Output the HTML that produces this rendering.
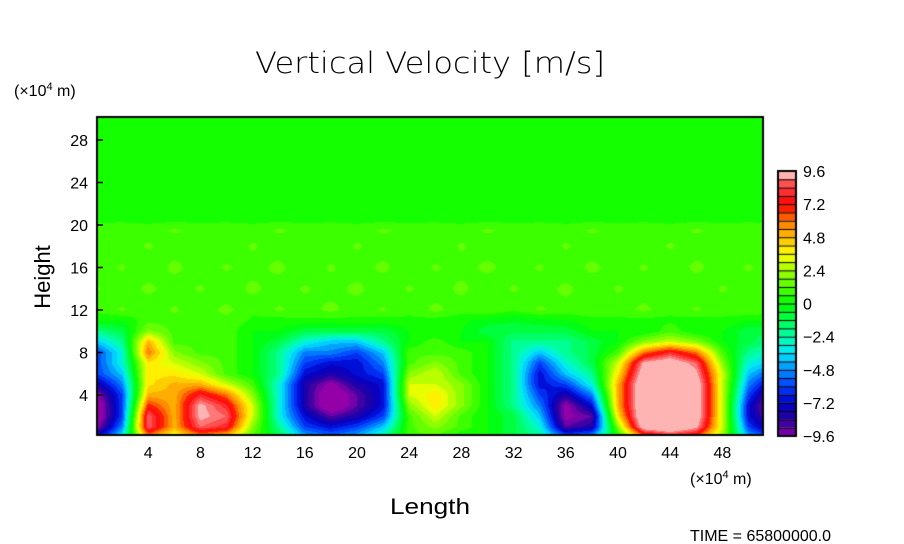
<!DOCTYPE html>
<html><head><meta charset="utf-8">
<style>
body{margin:0;background:#fff;width:904px;height:544px;overflow:hidden;position:relative;font-family:"Liberation Sans",sans-serif;}
canvas{position:absolute;left:0;top:0;}
svg{position:absolute;left:0;top:0;}
</style></head>
<body>
<canvas id="cv" width="904" height="544"></canvas>
<svg id="sv" width="904" height="544">
<text x="255" y="73" font-size="29" textLength="350" lengthAdjust="spacingAndGlyphs" font-family="DejaVu Sans, sans-serif" font-weight="200">Vertical Velocity [m/s]</text>
<text x="14" y="96" font-size="16">(×10<tspan dy="-6" font-size="11">4</tspan><tspan dy="6"> m)</tspan></text>
<text x="690" y="484" font-size="16">(×10<tspan dy="-6" font-size="11">4</tspan><tspan dy="6"> m)</tspan></text>
<text x="390" y="514" font-size="22" textLength="80" lengthAdjust="spacingAndGlyphs">Length</text>
<text transform="translate(50,277) rotate(-90)" font-size="22" text-anchor="middle">Height</text>
<text x="690" y="541" font-size="16">TIME = 65800000.0</text>
<g id="axes"></g>
</svg>
<script>
// Data grid: vertical velocity (m/s)
const xs = [0,2,4,6,8,10,12,14,16,18,20,22,24,26,28,30,32,34,36,38,40,42,44,46,48,50,52];
const ys = [0,1,2,3,4,5,6,7,8,9,10,11,12,14,16,18,19.5,20.5,25,30];
const r0  = [-7,-3,5,3,5,4,1,-1,-4,-5,-4,-2,1,1,0,0,-1,-2,-5,-4,0,5,7,6,2,-4,-6];
const r1  = [-10,-5,9,5,9,8,2,-2,-6,-7,-6,-4,1,2,1,0,-1,-3,-9,-8,2,11,12,10,3,-6,-9];
const r2  = [-11,-6,9,5,10,9,3,-3,-7,-9,-8,-6,1,3,1,0,-1,-4,-10,-9,4,12,13,11,3,-7,-10];
const r3  = [-11,-6,7,5,10,8,3,-3,-8,-11,-9,-7,2,4,2,0,-2,-5,-10,-7,5,12,13,11,3,-7,-11];
const r4  = [-10,-6,5,5,8,6,2,-3,-8,-11,-9,-7,3,4,2,0,-2,-6,-8,-5,5,12,13,11,3,-6,-10];
const r5  = [-8,-5,4,5,5,3,1,-3,-8,-10,-8,-7,3,3,2,0,-2,-7,-6,-3,5,12,13,11,3,-5,-8];
const r6  = [-6,-4,4,4,3,1,0,-2,-7,-8,-7,-6,2,3,1,0,-2,-7,-4,-2,4,11,12,10,3,-4,-6];
const r7  = [-6,-3,4,3,2,1,0,-2,-6,-7,-7,-5,1,2,1,0,-2,-6,-3,-1,3,10,11,9,2,-3,-4];
const r8  = [-6,-3,6,2,1,1,0,-2,-5,-5,-6,-4,1,1,1,0,-2,-4,-2,-1,1,6,8,6,1,-2,-3];
const r9  = [-4,-2,5,1,1,1,0,-1,-3,-4,-4,-2,0,1,0,0,-2,-2,-2,-1,0,2,3,2,0,-1,-2];
const r10 = [-2,-1,2,1,1,1,0,0,-1,-1,-1,-1,0,0,0,-1,-1,-1,-1,0,0,0,1,0,0,-1,-1];
const r11 = [0,0,1,1,1,1,0.5,0.3,0.5,0.3,0.5,0.3,0.5,0.3,0.2,-0.3,-0.5,-0.3,0,0.3,0.5,0.3,0.5,0.3,0.5,0,0];
const r12 = [0.8,1.3,0.7,1.3,0.8,1.4,0.7,1.3,0.9,1.4,0.8,1.3,0.7,1.4,0.8,1.2,0.7,1.3,0.9,1.2,0.8,1.4,0.7,1.3,0.8,1.2,0.8];
const r14 = [1.3,0.7,1.4,0.8,1.3,0.7,1.4,0.8,1.3,0.9,1.4,0.7,1.3,0.8,1.4,0.7,1.3,0.8,1.4,0.7,1.3,0.8,1.2,0.7,1.3,0.8,1.2];
const r16 = [0.8,1.3,0.7,1.4,0.8,1.3,0.9,1.4,0.7,1.3,0.8,1.4,0.7,1.3,0.9,1.4,0.8,1.3,0.7,1.4,0.8,1.3,0.7,1.4,0.8,1.3,0.8];
const r18 = [1.2,0.7,1.3,0.8,1.2,0.7,1.3,0.8,1.2,0.7,1.3,0.8,1.2,0.7,1.3,0.8,1.2,0.7,1.3,0.8,1.2,0.7,1.3,0.8,1.2,0.7,1.2];
const r195= [1.0,1.2,0.9,1.3,1.0,1.2,0.9,1.3,1.0,1.2,0.9,1.3,1.0,1.2,0.9,1.3,1.0,1.2,0.9,1.3,1.0,1.2,0.9,1.3,1.0,1.2,1.0];
const r205= [0.4,0.4,0.4,0.4,0.4,0.4,0.4,0.4,0.4,0.4,0.4,0.4,0.4,0.4,0.4,0.4,0.4,0.4,0.4,0.4,0.4,0.4,0.4,0.4,0.4,0.4,0.4];
const r25 = [0.3,0.3,0.3,0.3,0.3,0.3,0.3,0.3,0.3,0.3,0.3,0.3,0.3,0.3,0.3,0.3,0.3,0.3,0.3,0.3,0.3,0.3,0.3,0.3,0.3,0.3,0.3];
const r30 = [0.3,0.3,0.3,0.3,0.3,0.3,0.3,0.3,0.3,0.3,0.3,0.3,0.3,0.3,0.3,0.3,0.3,0.3,0.3,0.3,0.3,0.3,0.3,0.3,0.3,0.3,0.3];
const rows = [r0,r1,r2,r3,r4,r5,r6,r7,r8,r9,r10,r11,r12,r14,r16,r18,r195,r205,r25,r30];
const xTicks = [4,8,12,16,20,24,28,32,36,40,44,48];
const yTicks = [4,8,12,16,20,24,28];
const cbLabels = ["9.6","7.2","4.8","2.4","0","−2.4","−4.8","−7.2","−9.6"];
const cbValues = [9.6,7.2,4.8,2.4,0,-2.4,-4.8,-7.2,-9.6];

const PL=97, PR=763, PT=117, PB=435;
const X0=96, XS=13.05, Y0=437.5, YS=10.625;
const sx = v => X0 + v*XS;
const sy = v => Y0 - v*YS;
const ix = p => (p - X0)/XS;
const iy = p => (Y0 - p)/YS;

const stops=[[-9.6,[140,0,170]],[-8.4,[40,0,160]],[-7.2,[0,0,200]],[-6,[0,60,255]],[-4.8,[0,140,255]],[-3.6,[0,230,255]],[-2.4,[0,255,170]],[-1.2,[0,255,80]],[0,[0,255,0]],[1.2,[80,255,0]],[2.4,[160,255,0]],[3.6,[255,255,0]],[4.8,[255,190,0]],[6,[255,120,0]],[7.2,[255,0,0]],[8.4,[255,60,60]],[9.6,[255,140,140]]];
function colorOf(v){
  if(v>=9.6) return [255,180,180];
  if(v<-9.6) return [148,0,168];
  const q=Math.floor(v/0.6)*0.6+0.3;
  for(let i=0;i<stops.length-1;i++){
    if(q>=stops[i][0]&&q<=stops[i+1][0]){
      const t=(q-stops[i][0])/(stops[i+1][0]-stops[i][0]);
      return stops[i][1].map((c,k)=>Math.round(c+(stops[i+1][1][k]-c)*t));
    }
  }
  return [0,255,0];
}
function seg(arr,v){let i=0;while(i<arr.length-2&&v>arr[i+1])i++;return i;}
function field(x,y){
  const i=seg(xs,x), j=seg(ys,y);
  const tx=Math.max(0,Math.min(1,(x-xs[i])/(xs[i+1]-xs[i])));
  const ty=Math.max(0,Math.min(1,(y-ys[j])/(ys[j+1]-ys[j])));
  const a=rows[j][i],b=rows[j][i+1],c=rows[j+1][i],d=rows[j+1][i+1];
  return (a*(1-tx)+b*tx)*(1-ty)+(c*(1-tx)+d*tx)*ty;
}
const ctx=document.getElementById('cv').getContext('2d');
const W=PR-PL, H=PB-PT;
const img=ctx.createImageData(W,H);
for(let py=0;py<H;py++){for(let px=0;px<W;px++){
  const c=colorOf(field(ix(PL+px+0.5),iy(PT+py+0.5)));
  const o=(py*W+px)*4;img.data[o]=c[0];img.data[o+1]=c[1];img.data[o+2]=c[2];img.data[o+3]=255;
}}
ctx.putImageData(img,PL,PT);
// colorbar
const CBX=778,CBW=18,CBT=171,CBB=436,N=32,cbh=(CBB-CBT)/N;
for(let k=0;k<N;k++){
  const v=9.6-(k+0.5)*0.6;const c=colorOf(k===0?9.7:v);
  ctx.fillStyle=`rgb(${c[0]},${c[1]},${c[2]})`;
  ctx.fillRect(CBX,CBT+k*cbh,CBW,cbh);
  ctx.fillStyle='#000';ctx.fillRect(CBX,CBT+k*cbh,CBW,1);
}
ctx.strokeStyle='#000';ctx.lineWidth=2;ctx.strokeRect(CBX,CBT,CBW,CBB-CBT);
ctx.lineWidth=2;ctx.strokeRect(PL,PT,W,H);

const g=document.getElementById('axes');
const NS='http://www.w3.org/2000/svg';
xTicks.forEach(t=>{
  const tx=document.createElementNS(NS,'text');
  
  
  tx.setAttribute('x',sx(t));tx.setAttribute('y',458);tx.setAttribute('font-size','16');tx.setAttribute('text-anchor','middle');
  tx.textContent=t;g.appendChild(tx);
});
yTicks.forEach(t=>{
  const tx=document.createElementNS(NS,'text');
  
  
  tx.setAttribute('x',88);tx.setAttribute('y',sy(t)+6);tx.setAttribute('font-size','16');tx.setAttribute('text-anchor','end');
  tx.textContent=t;g.appendChild(tx);
  const ln=document.createElementNS(NS,'line');
  
  
  ln.setAttribute('x1',PL);ln.setAttribute('x2',PL+6);ln.setAttribute('y1',sy(t));ln.setAttribute('y2',sy(t));ln.setAttribute('stroke','#000');ln.setAttribute('stroke-width','1.5');
  g.appendChild(ln);
});
cbLabels.forEach((lab,i)=>{
  const tx=document.createElementNS(NS,'text');
  
  
  const yy=CBT+(9.6-cbValues[i])/19.2*(CBB-CBT);
  tx.setAttribute('x',803);tx.setAttribute('y',yy+6);tx.setAttribute('font-size','16');
  tx.textContent=lab;g.appendChild(tx);
});
</script>
</body></html>
